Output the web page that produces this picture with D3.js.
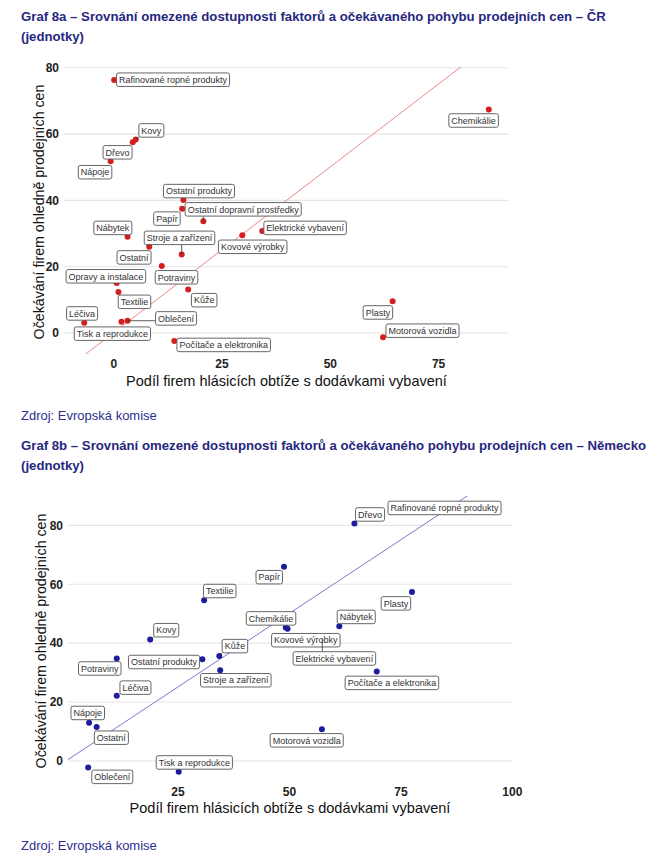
<!DOCTYPE html>
<html><head><meta charset="utf-8">
<script src="https://cdn.jsdelivr.net/npm/d3@7"></script>
<style>body{margin:0;background:#fff}svg{display:block}</style>
</head><body><svg id="c" width="671" height="862"></svg>
<script>
// ---------- DATA ----------
const sectorsCZ = ["Rafinované ropné produkty","Kovy","Dřevo","Nápoje","Ostatní produkty","Ostatní dopravní prostředky","Papír","Nábytek","Stroje a zařízení","Ostatní","Potraviny","Opravy a instalace","Textilie","Kůže","Léčiva","Tisk a reprodukce","Oblečení","Počítače a elektronika","Kovové výrobky","Elektrické vybavení","Chemikálie","Plasty","Motorová vozidla"];
const supplyCZ = [0.2,5.2,4.5,-0.6,16.2,20.8,15.9,3.3,15.8,8.3,11.2,0.8,1.2,17.3,-6.7,1.9,3.3,14.1,29.8,34.4,86.7,64.5,62.3];
const pricesCZ = [76.3,58.4,57.5,51.8,40.1,33.7,37.5,29.0,23.7,26.0,20.2,15.1,12.4,13.1,3.1,3.4,3.7,-2.4,29.5,30.8,67.4,9.6,-1.3];

const sectorsDE = ["Dřevo","Rafinované ropné produkty","Papír","Plasty","Nábytek","Chemikálie","Kovové výrobky","Elektrické vybavení","Počítače a elektronika","Motorová vozidla","Textilie","Kovy","Ostatní produkty","Kůže","Stroje a zařízení","Potraviny","Léčiva","Nápoje","Ostatní","Oblečení","Tisk a reprodukce"];
const supplyDE = [64.7,95.5,48.9,77.6,61.3,49.3,49.7,57.5,69.7,57.4,31.0,18.9,30.6,34.4,34.6,11.4,11.4,5.2,6.9,5.0,25.3];
const pricesDE = [80.6,85.5,65.9,57.4,45.7,45.3,44.9,41.5,30.4,10.8,54.6,41.2,34.5,35.6,30.8,34.8,22.1,13.0,11.5,-2.2,-3.7];

const xTicksCZ = [0,25,50,75];
const xTicksDE = [25,50,75,100];
const yTicks = [0,20,40,60,80];
// reference line y = x (slope, intercept)
const refLine = [1, 0];

// ---------- LAYOUT (label anchors in data units, segment flags) ----------
const labelPosCZ = [[13.8,76.4],[8.8,61.1],[1.0,54.5],[-4.2,48.5],[19.8,42.8],[30.0,37.3],[12.4,34.5],[-0.1,31.7],[15.3,28.7],[4.8,22.8],[14.6,16.8],[-1.7,17.1],[4.9,9.4],[21.0,9.9],[-7.2,5.9],[-0.2,-0.2],[14.5,4.4],[25.5,-3.6],[32.2,26.0],[44.3,31.7],[83.2,64.1],[61.1,6.2],[71.4,0.7]];
const segCZ = [0,1,0,0,0,1,0,0,1,0,0,0,0,0,0,0,1,0,0,0,0,0,0];
const labelPosDE = [[68.2,83.7],[84.9,85.9],[45.6,62.4],[74.0,53.5],[65.1,48.9],[46.0,48.4],[53.8,41.0],[60.2,34.8],[73.1,26.5],[54.0,7.0],[34.5,57.7],[22.5,44.4],[22.0,33.6],[37.9,39.0],[38.1,27.4],[7.6,31.4],[15.6,24.9],[4.9,16.3],[10.2,7.9],[10.4,-5.4],[28.8,-0.5]];
const segDE = [0,0,0,0,0,0,0,1,0,0,0,1,0,1,0,0,0,0,0,0,0];

const FONT = "'Liberation Sans', Arial, sans-serif";
const svg = d3.select("#c");
svg.append("rect").attr("width",671).attr("height",862).attr("fill","#fff");

function textBlock(lines, x, y0, lh, opts){
  lines.forEach((t,i)=>{
    svg.append("text").attr("x",x).attr("y",y0+i*lh).text(t)
      .attr("font-family",FONT).attr("font-size",opts.size).attr("font-weight",opts.weight)
      .attr("fill",opts.color);
  });
}

textBlock(["Graf 8a – Srovnání omezené dostupnosti faktorů a očekávaného pohybu prodejních cen – ČR","(jednotky)"],21,21,20,{size:13.2,weight:"bold",color:"#27277f"});
textBlock(["Zdroj: Evropská komise"],21,420,20,{size:13,weight:"normal",color:"#2e2e8e"});
textBlock(["Graf 8b – Srovnání omezené dostupnosti faktorů a očekávaného pohybu prodejních cen – Německo","(jednotky)"],21,450,20,{size:13.2,weight:"bold",color:"#27277f"});
textBlock(["Zdroj: Evropská komise"],21,850,20,{size:13,weight:"normal",color:"#2e2e8e"});

function expand(vals){
  const [a,b] = d3.extent(vals); const e=(b-a)*0.05; return [a-e,b+e];
}

function panel(cfg){
  const x = d3.scaleLinear().domain(expand(cfg.xs)).range([cfg.left,cfg.right]);
  const y = d3.scaleLinear().domain(expand(cfg.ys)).range([cfg.bottom,cfg.top]);
  const g = svg.append("g");
  const clipId = "clip"+cfg.id;
  svg.append("clipPath").attr("id",clipId).append("rect")
    .attr("x",cfg.left).attr("y",cfg.top).attr("width",cfg.right-cfg.left).attr("height",cfg.bottom-cfg.top);

  // gridlines
  g.selectAll(".gl").data(cfg.yTicks).join("line")
    .attr("x1",cfg.left).attr("x2",cfg.right).attr("y1",d=>y(d)).attr("y2",d=>y(d))
    .attr("stroke","#e6e6e6").attr("stroke-width",1.1);

  // axes (tick labels only)
  const ax = d3.axisBottom(x).tickValues(cfg.xTicks).tickSize(0).tickPadding(cfg.xPad);
  const xa = g.append("g").attr("transform",`translate(0,${cfg.bottom})`).call(ax);
  xa.select(".domain").remove();
  xa.selectAll("text").attr("font-family",FONT).attr("font-size",12).attr("font-weight","bold").attr("fill","#222");
  const ay = d3.axisLeft(y).tickValues(cfg.yTicks).tickSize(0).tickPadding(5);
  const ya = g.append("g").attr("transform",`translate(${cfg.left},0)`).call(ay);
  ya.select(".domain").remove();
  ya.selectAll("text").attr("font-family",FONT).attr("font-size",12).attr("font-weight","bold").attr("fill","#222");

  // axis titles
  g.append("text").attr("x",(cfg.left+cfg.right)/2).attr("y",cfg.xTitleY).attr("text-anchor","middle")
    .attr("font-family",FONT).attr("font-size",14.5).attr("fill","#111")
    .text("Podíl firem hlásicích obtíže s dodávkami vybavení");
  g.append("text").attr("transform",`translate(${cfg.yTitleX},${cfg.yTitleCY}) rotate(-90)`).attr("text-anchor","middle")
    .attr("font-family",FONT).attr("font-size",14.2).attr("fill","#111")
    .text("Očekávání firem ohledně prodejních cen");

  // reference line y = a*x + b, clipped to the panel
  const [xd0,xd1] = x.domain();
  const pts = [xd0,xd1].map(v=>[v, refLine[0]*v+refLine[1]]);
  g.append("line").attr("clip-path",`url(#${clipId})`)
    .attr("x1",x(pts[0][0])).attr("y1",y(pts[0][1])).attr("x2",x(pts[1][0])).attr("y2",y(pts[1][1]))
    .attr("stroke",cfg.lineColor).attr("stroke-width",1);

  const data = cfg.names.map((n,i)=>({n, x:cfg.xs[i], y:cfg.ys[i], lx:cfg.lab[i][0], ly:cfg.lab[i][1], seg:cfg.seg[i]}));

  // points
  g.selectAll(".pt").data(data).join("circle")
    .attr("cx",d=>x(d.x)).attr("cy",d=>y(d.y)).attr("r",3).attr("fill",cfg.pointColor);

  // labels
  const lg = g.append("g");
  data.forEach(d=>{
    const cx = x(d.lx), cy = y(d.ly);
    const t = lg.append("text").attr("x",cx).attr("y",cy+3.2).attr("text-anchor","middle")
      .attr("font-family",FONT).attr("font-size",9).attr("fill","#333").text(d.n);
    const w = t.node().getComputedTextLength()+5, h = 13.5;
    const bx = cx-w/2, by = cy-h/2;
    if(d.seg){
      const px = x(d.x), py = y(d.y);
      const qx = Math.max(bx, Math.min(px, bx+w)), qy = Math.max(by, Math.min(py, by+h));
      lg.insert("line","text").attr("x1",px).attr("y1",py).attr("x2",qx).attr("y2",qy)
        .attr("stroke","#333").attr("stroke-width",0.8);
    }
    lg.insert("rect","text").attr("x",bx).attr("y",by).attr("width",w).attr("height",h)
      .attr("rx",2).attr("fill","#fff").attr("stroke","#555").attr("stroke-width",0.9);
    t.raise();
  });
}

panel({id:"cz", names:sectorsCZ, xs:supplyCZ, ys:pricesCZ, lab:labelPosCZ, seg:segCZ,
  left:64, right:509, top:67, bottom:354, xTicks:xTicksCZ, yTicks:yTicks, xPad:5,
  xTitleY:386, yTitleX:44, yTitleCY:212, lineColor:"#e98a8a", pointColor:"#d21f1f"});
panel({id:"de", names:sectorsDE, xs:supplyDE, ys:pricesDE, lab:labelPosDE, seg:segDE,
  left:68, right:512, top:496, bottom:785, xTicks:xTicksDE, yTicks:yTicks, xPad:2,
  xTitleY:813, yTitleX:46, yTitleCY:641, lineColor:"#7a7acc", pointColor:"#1c1c9c"});
</script></body></html>
